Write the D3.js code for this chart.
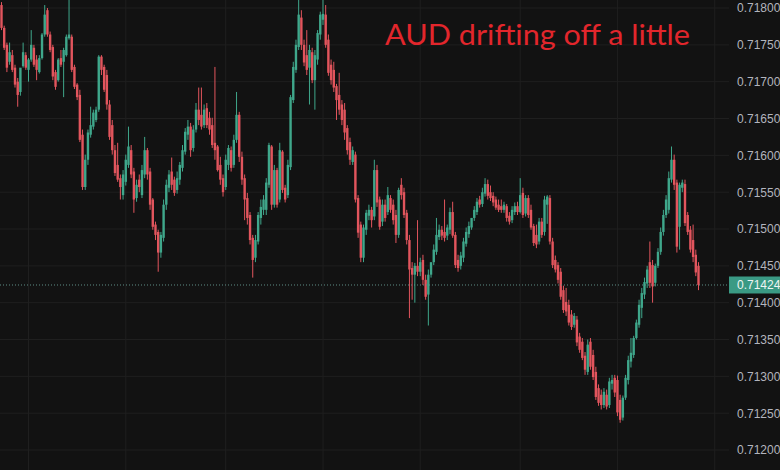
<!DOCTYPE html>
<html><head><meta charset="utf-8">
<script src="https://cdn.jsdelivr.net/npm/d3@7"></script>
<style>html,body{margin:0;padding:0;background:#121212;overflow:hidden}</style>
</head><body><svg id="c" width="780" height="470"></svg>
<script>
const openP=[0.71804,0.71773,0.71750,0.71727,0.71736,0.71719,0.71700,0.71686,0.71721,0.71736,0.71716,0.71730,0.71746,0.71730,0.71713,0.71732,0.71764,0.71797,0.71764,0.71747,0.71713,0.71702,0.71732,0.71727,0.71736,0.71759,0.71761,0.71720,0.71696,0.71682,0.71628,0.71557,0.71594,0.71628,0.71639,0.71648,0.71662,
0.71734,0.71720,0.71709,0.71669,0.71641,0.71607,0.71587,0.71569,0.71546,0.71564,0.71587,0.71607,0.71578,0.71542,0.71567,0.71546,0.71574,0.71607,0.71578,0.71540,0.71506,0.71496,0.71468,0.71488,0.71533,0.71556,0.71578,0.71567,0.71553,0.71567,0.71583,0.71605,0.71628,0.71639,0.71610,0.71635,0.71662,
0.71655,0.71641,0.71664,0.71651,0.71641,0.71617,0.71612,0.71587,0.71569,0.71557,0.71587,0.71607,0.71587,0.71621,0.71655,0.71598,0.71569,0.71542,0.71519,0.71488,0.71461,0.71483,0.71515,0.71526,0.71526,0.71560,0.71612,0.71533,0.71580,0.71540,0.71605,0.71556,0.71546,0.71584,0.71675,0.71716,0.71747,
0.71787,0.71750,0.71736,0.71719,0.71740,0.71702,0.71730,0.71764,0.71784,0.71791,0.71757,0.71723,0.71716,0.71694,0.71682,0.71669,0.71662,0.71637,0.71618,0.71591,0.71601,0.71542,0.71506,0.71461,0.71499,0.71518,0.71526,0.71517,0.71580,0.71540,0.71510,0.71533,0.71523,0.71542,0.71533,0.71519,0.71492,
0.71560,0.71550,0.71522,0.71485,0.71447,0.71438,0.71450,0.71442,0.71458,0.71431,0.71411,0.71438,0.71455,0.71469,0.71489,0.71499,0.71496,0.71491,0.71499,0.71523,0.71492,0.71458,0.71450,0.71461,0.71480,0.71493,0.71502,0.71515,0.71523,0.71540,0.71534,0.71548,0.71561,0.71550,0.71545,0.71540,0.71533,
0.71531,0.71526,0.71531,0.71518,0.71512,0.71523,0.71531,0.71523,0.71549,0.71521,0.71542,0.71526,0.71504,0.71492,0.71483,0.71510,0.71496,0.71533,0.71542,0.71483,0.71458,0.71451,0.71442,0.71417,0.71401,0.71397,0.71384,0.71370,0.71377,0.71354,0.71347,0.71328,0.71306,0.71347,0.71329,0.71306,0.71284,
0.71275,0.71261,0.71275,0.71261,0.71290,0.71298,0.71295,0.71268,0.71244,0.71271,0.71295,0.71320,0.71329,0.71352,0.71370,0.71393,0.71411,0.71426,0.71455,0.71451,0.71427,0.71450,0.71469,0.71496,0.71519,0.71526,0.71567,0.71594,0.71563,0.71503,0.71556,0.71561,0.71519,0.71499,0.71485,0.71465,0.71450];
const highP=[0.71808,0.71776,0.71753,0.71753,0.71743,0.71723,0.71705,0.71713,0.71753,0.71740,0.71732,0.71770,0.71750,0.71736,0.71736,0.71766,0.71804,0.71800,0.71768,0.71750,0.71716,0.71732,0.71743,0.71746,0.71764,0.71811,0.71764,0.71723,0.71698,0.71689,0.71635,0.71601,0.71635,0.71666,0.71662,0.71666,0.71736,
0.71736,0.71723,0.71716,0.71675,0.71648,0.71614,0.71617,0.71574,0.71580,0.71601,0.71639,0.71614,0.71583,0.71567,0.71574,0.71587,0.71625,0.71610,0.71583,0.71542,0.71510,0.71499,0.71496,0.71540,0.71567,0.71580,0.71597,0.71571,0.71578,0.71591,0.71614,0.71637,0.71648,0.71644,0.71641,0.71671,0.71692,
0.71692,0.71669,0.71671,0.71659,0.71651,0.71720,0.71614,0.71598,0.71574,0.71601,0.71614,0.71612,0.71628,0.71686,0.71659,0.71605,0.71574,0.71549,0.71523,0.71492,0.71492,0.71523,0.71540,0.71546,0.71569,0.71617,0.71614,0.71587,0.71583,0.71617,0.71607,0.71560,0.71594,0.71682,0.71727,0.71757,0.71811,
0.71797,0.71757,0.71770,0.71750,0.71746,0.71743,0.71770,0.71795,0.71811,0.71804,0.71764,0.71730,0.71727,0.71697,0.71712,0.71675,0.71671,0.71641,0.71624,0.71612,0.71605,0.71546,0.71510,0.71506,0.71526,0.71533,0.71530,0.71594,0.71587,0.71544,0.71540,0.71540,0.71557,0.71546,0.71540,0.71526,0.71556,
0.71569,0.71556,0.71526,0.71492,0.71455,0.71454,0.71512,0.71461,0.71465,0.71438,0.71445,0.71451,0.71479,0.71515,0.71506,0.71504,0.71540,0.71506,0.71529,0.71537,0.71496,0.71465,0.71469,0.71488,0.71502,0.71510,0.71515,0.71531,0.71542,0.71545,0.71556,0.71569,0.71567,0.71559,0.71550,0.71544,0.71540,
0.71540,0.71537,0.71534,0.71523,0.71531,0.71536,0.71537,0.71569,0.71556,0.71546,0.71546,0.71533,0.71507,0.71506,0.71515,0.71515,0.71545,0.71546,0.71546,0.71488,0.71464,0.71455,0.71447,0.71423,0.71420,0.71404,0.71390,0.71386,0.71382,0.71359,0.71352,0.71333,0.71350,0.71352,0.71336,0.71313,0.71289,
0.71282,0.71284,0.71282,0.71298,0.71302,0.71302,0.71301,0.71275,0.71274,0.71302,0.71328,0.71352,0.71355,0.71377,0.71404,0.71420,0.71434,0.71450,0.71483,0.71458,0.71453,0.71474,0.71502,0.71526,0.71546,0.71578,0.71612,0.71601,0.71567,0.71563,0.71567,0.71567,0.71523,0.71504,0.71506,0.71472,0.71455];
const lowP=[0.71770,0.71743,0.71713,0.71723,0.71713,0.71692,0.71666,0.71681,0.71719,0.71716,0.71700,0.71727,0.71720,0.71702,0.71711,0.71730,0.71761,0.71761,0.71740,0.71702,0.71689,0.71700,0.71720,0.71679,0.71734,0.71757,0.71713,0.71690,0.71675,0.71618,0.71553,0.71553,0.71587,0.71624,0.71635,0.71645,0.71659,
0.71709,0.71686,0.71662,0.71621,0.71601,0.71572,0.71564,0.71540,0.71540,0.71559,0.71583,0.71569,0.71522,0.71537,0.71550,0.71542,0.71569,0.71567,0.71526,0.71499,0.71485,0.71442,0.71461,0.71483,0.71526,0.71550,0.71553,0.71545,0.71548,0.71560,0.71578,0.71601,0.71621,0.71598,0.71605,0.71631,0.71641,
0.71635,0.71637,0.71637,0.71628,0.71610,0.71594,0.71578,0.71560,0.71544,0.71553,0.71580,0.71578,0.71583,0.71617,0.71591,0.71560,0.71512,0.71506,0.71479,0.71434,0.71455,0.71479,0.71506,0.71519,0.71519,0.71556,0.71526,0.71529,0.71529,0.71536,0.71549,0.71536,0.71542,0.71580,0.71671,0.71712,0.71743,
0.71743,0.71721,0.71709,0.71669,0.71698,0.71662,0.71723,0.71757,0.71777,0.71746,0.71708,0.71696,0.71686,0.71648,0.71655,0.71641,0.71621,0.71601,0.71587,0.71587,0.71536,0.71488,0.71455,0.71455,0.71492,0.71512,0.71502,0.71512,0.71530,0.71499,0.71504,0.71510,0.71519,0.71522,0.71506,0.71481,0.71488,
0.71540,0.71515,0.71479,0.71379,0.71404,0.71400,0.71436,0.71436,0.71424,0.71404,0.71369,0.71434,0.71451,0.71465,0.71485,0.71485,0.71483,0.71485,0.71493,0.71488,0.71447,0.71442,0.71445,0.71455,0.71476,0.71488,0.71499,0.71511,0.71519,0.71529,0.71530,0.71544,0.71540,0.71538,0.71531,0.71526,0.71523,
0.71522,0.71522,0.71510,0.71506,0.71508,0.71519,0.71519,0.71521,0.71515,0.71517,0.71515,0.71499,0.71477,0.71474,0.71479,0.71488,0.71491,0.71507,0.71479,0.71447,0.71441,0.71426,0.71404,0.71386,0.71382,0.71369,0.71363,0.71366,0.71341,0.71332,0.71322,0.71302,0.71302,0.71309,0.71295,0.71268,0.71260,
0.71255,0.71257,0.71255,0.71257,0.71282,0.71272,0.71246,0.71237,0.71240,0.71268,0.71289,0.71312,0.71325,0.71350,0.71366,0.71379,0.71405,0.71420,0.71420,0.71400,0.71422,0.71447,0.71465,0.71491,0.71515,0.71521,0.71563,0.71553,0.71468,0.71472,0.71550,0.71504,0.71492,0.71468,0.71455,0.71436,0.71417];
const closeP=[0.71773,0.71746,0.71719,0.71740,0.71716,0.71696,0.71682,0.71719,0.71740,0.71719,0.71730,0.71750,0.71723,0.71716,0.71732,0.71764,0.71791,0.71764,0.71743,0.71707,0.71693,0.71730,0.71723,0.71743,0.71761,0.71764,0.71716,0.71693,0.71679,0.71621,0.71557,0.71594,0.71631,0.71641,0.71658,0.71662,0.71734,
0.71716,0.71689,0.71669,0.71625,0.71607,0.71576,0.71567,0.71557,0.71574,0.71594,0.71612,0.71574,0.71540,0.71560,0.71557,0.71580,0.71607,0.71574,0.71533,0.71503,0.71492,0.71468,0.71492,0.71533,0.71560,0.71574,0.71560,0.71549,0.71569,0.71587,0.71607,0.71632,0.71639,0.71607,0.71635,0.71662,0.71648,
0.71639,0.71662,0.71641,0.71635,0.71614,0.71607,0.71580,0.71567,0.71550,0.71594,0.71610,0.71583,0.71621,0.71655,0.71598,0.71567,0.71540,0.71515,0.71485,0.71458,0.71485,0.71519,0.71530,0.71540,0.71563,0.71614,0.71533,0.71580,0.71533,0.71607,0.71553,0.71540,0.71587,0.71679,0.71720,0.71750,0.71791,
0.71750,0.71726,0.71716,0.71743,0.71702,0.71736,0.71766,0.71791,0.71792,0.71750,0.71712,0.71702,0.71692,0.71675,0.71662,0.71648,0.71631,0.71607,0.71594,0.71607,0.71540,0.71495,0.71461,0.71502,0.71522,0.71526,0.71512,0.71580,0.71536,0.71503,0.71533,0.71515,0.71546,0.71526,0.71512,0.71492,0.71553,
0.71546,0.71519,0.71485,0.71445,0.71438,0.71450,0.71442,0.71455,0.71431,0.71408,0.71438,0.71455,0.71472,0.71492,0.71499,0.71491,0.71488,0.71502,0.71523,0.71491,0.71451,0.71447,0.71464,0.71483,0.71496,0.71504,0.71515,0.71526,0.71537,0.71533,0.71550,0.71561,0.71545,0.71542,0.71536,0.71529,0.71526,
0.71526,0.71533,0.71515,0.71510,0.71526,0.71531,0.71523,0.71546,0.71519,0.71542,0.71519,0.71502,0.71481,0.71479,0.71510,0.71492,0.71540,0.71544,0.71483,0.71451,0.71445,0.71431,0.71408,0.71390,0.71388,0.71373,0.71367,0.71382,0.71346,0.71336,0.71325,0.71309,0.71343,0.71313,0.71299,0.71272,0.71264,
0.71261,0.71279,0.71259,0.71293,0.71295,0.71278,0.71251,0.71241,0.71271,0.71298,0.71322,0.71332,0.71352,0.71373,0.71397,0.71413,0.71428,0.71445,0.71427,0.71422,0.71450,0.71469,0.71496,0.71519,0.71540,0.71569,0.71594,0.71560,0.71476,0.71560,0.71563,0.71508,0.71496,0.71472,0.71462,0.71441,0.71424];
const priceTicks=[0.718,0.7175,0.717,0.7165,0.716,0.7155,0.715,0.7145,0.714,0.7135,0.713,0.7125,0.712];
const lastPrice=0.71424;
const timeGridIdx=[10,46,83,119,155,192,228,264];
const titleText="AUD drifting off a little";

const svg=d3.select("#c");
svg.append("rect").attr("width",780).attr("height",470).attr("fill","#121212");
const N=closeP.length;
const y=d3.scaleLinear().domain([0.712,0.718]).range([450,8]);
const xc=d3.scaleLinear().domain([0,N-1]).range([1.5,698.5]);
const plotRight=729;

// grid
const grid=svg.append("g");
grid.selectAll("line.h").data(priceTicks).join("line").attr("class","h")
  .attr("x1",0).attr("x2",plotRight).attr("y1",d=>y(d)).attr("y2",d=>y(d))
  .attr("stroke","#1f1f1f").attr("stroke-width",1);
grid.selectAll("line.v").data(timeGridIdx).join("line").attr("class","v")
  .attr("x1",d=>xc(d)).attr("x2",d=>xc(d)).attr("y1",0).attr("y2",470)
  .attr("stroke","#1f1f1f").attr("stroke-width",1);

// candles
const up="#3fa78b", down="#e2555d";
const bodyW=2.4;
const cg=svg.append("g");
const idx=d3.range(N);
cg.selectAll("line").data(idx).join("line")
  .attr("x1",i=>xc(i)).attr("x2",i=>xc(i))
  .attr("y1",i=>y(highP[i])).attr("y2",i=>y(lowP[i]))
  .attr("stroke",i=>closeP[i]>=openP[i]?up:down).attr("stroke-width",1);
cg.selectAll("rect").data(idx).join("rect")
  .attr("x",i=>xc(i)-bodyW/2).attr("width",bodyW)
  .attr("y",i=>y(Math.max(openP[i],closeP[i])))
  .attr("height",i=>Math.max(1,Math.abs(y(openP[i])-y(closeP[i]))))
  .attr("fill",i=>closeP[i]>=openP[i]?up:down);

// last price line
svg.append("line").attr("x1",0).attr("x2",plotRight)
  .attr("y1",y(lastPrice)).attr("y2",y(lastPrice))
  .attr("stroke","#5f8f86").attr("stroke-width",1).attr("stroke-dasharray","1,2");

// axis
const axis=d3.axisRight(y).tickValues(priceTicks).tickFormat(d3.format(".5f")).tickSize(0).tickPadding(0);
const ag=svg.append("g").attr("transform","translate(737,0)").call(axis);
ag.select(".domain").remove();
ag.selectAll("text").attr("fill","#b2b5be").attr("font-size","12px")
  .attr("font-family","'Liberation Sans', Arial, sans-serif");

// last price label
const lp=svg.append("g");
lp.append("rect").attr("x",plotRight).attr("y",y(lastPrice)-8.5).attr("width",51).attr("height",17).attr("fill","#3a9a84");
lp.append("text").attr("x",737).attr("y",y(lastPrice)).attr("dy","0.35em")
  .attr("fill","#eef5f3").attr("font-size","12px")
  .attr("font-family","'Liberation Sans', Arial, sans-serif").text(d3.format(".5f")(lastPrice));

// title
svg.append("text").attr("x",385).attr("y",45).attr("fill","#e2262c")
  .attr("font-size","29px").attr("font-family","Lato, 'Open Sans', sans-serif")
  .attr("textLength",305).attr("lengthAdjust","spacingAndGlyphs")
  .text(titleText);
</script></body></html>
